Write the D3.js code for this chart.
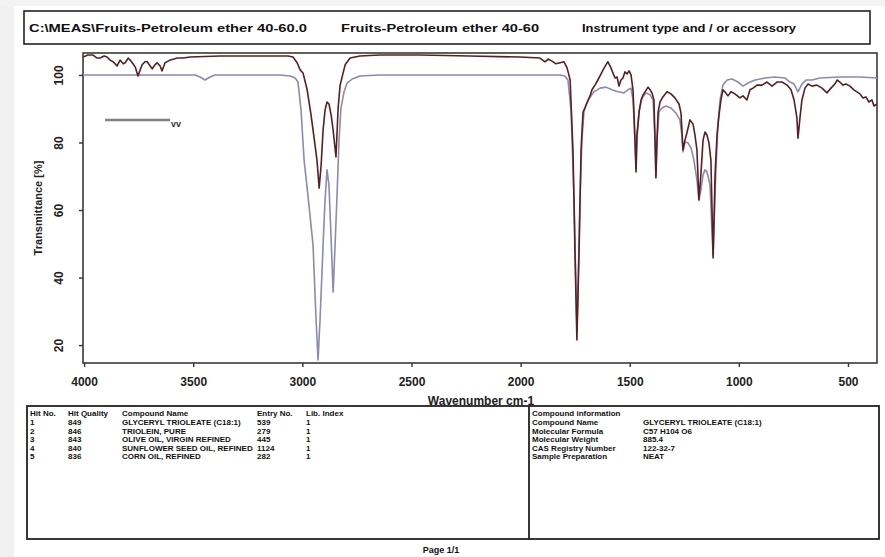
<!DOCTYPE html>
<html><head><meta charset="utf-8">
<script src="https://cdn.jsdelivr.net/npm/d3@7"></script>
<style>body{margin:0;background:#fff}svg{display:block;font-family:"Liberation Sans",Arial,sans-serif}</style>
</head><body><svg id="c" width="885" height="557"></svg>
<script>
// ---------- data ----------
const headerTexts=["C:\\MEAS\\Fruits-Petroleum ether 40-60.0","Fruits-Petroleum ether 40-60","Instrument type and / or accessory"];
const yTicks=[100,80,60,40,20];
const xTicks=[4000,3500,3000,2500,2000,1500,1000,500];
const xDomain=[4005,367];
const yDomain=[14.7,106.5];
// sample spectrum [wavenumber, %T]
const sample=[[4005,105.3],[3982,105.9],[3959,105.9],[3940,105.0],[3927,105.0],[3908,105.6],[3895,105.3],[3881,104.4],[3867,103.9],[3849,102.7],[3835,104.4],[3821,103.3],[3812,103.6],[3798,105.0],[3789,104.4],[3776,103.3],[3766,102.4],[3753,99.7],[3743,101.5],[3734,103.0],[3721,103.9],[3711,103.9],[3698,102.7],[3688,101.8],[3675,103.0],[3666,103.6],[3652,102.7],[3643,101.2],[3634,102.7],[3629,103.6],[3615,104.1],[3606,104.4],[3588,104.7],[3574,105.0],[3546,105.0],[3514,105.3],[3377,105.6],[3194,105.6],[3065,105.6],[3043,105.3],[3024,103.6],[3010,101.5],[2997,100.6],[2978,95.6],[2960,88.1],[2942,79.3],[2933,74.8],[2923,66.5],[2914,73.3],[2905,83.7],[2896,89.6],[2887,92.0],[2878,91.4],[2868,88.1],[2859,83.7],[2846,75.7],[2836,90.2],[2827,97.0],[2804,103.0],[2781,105.0],[2736,105.6],[2644,105.9],[2461,105.9],[2232,105.6],[2003,105.3],[1911,105.0],[1888,103.9],[1874,104.7],[1856,104.1],[1838,103.3],[1819,103.6],[1801,103.9],[1787,102.1],[1773,98.5],[1760,77.8],[1751,48.1],[1742,21.5],[1732,48.1],[1723,77.8],[1714,89.0],[1705,90.2],[1696,91.7],[1682,93.8],[1673,95.6],[1659,97.0],[1646,98.5],[1636,99.7],[1622,101.5],[1609,103.0],[1600,103.9],[1586,102.1],[1577,100.6],[1567,99.1],[1558,99.4],[1549,96.7],[1540,98.5],[1531,99.1],[1522,100.9],[1512,100.3],[1503,101.2],[1494,100.0],[1485,95.6],[1480,88.1],[1476,80.7],[1471,71.3],[1467,82.2],[1457,89.0],[1448,92.6],[1439,94.1],[1430,95.0],[1416,96.4],[1407,95.6],[1398,94.7],[1389,92.6],[1384,80.7],[1380,69.5],[1375,80.7],[1370,89.0],[1361,92.0],[1348,93.5],[1329,95.0],[1311,94.4],[1293,93.2],[1274,91.4],[1265,88.7],[1256,77.8],[1247,80.7],[1238,82.8],[1224,86.7],[1210,85.5],[1201,82.2],[1192,77.8],[1183,63.0],[1174,70.4],[1164,80.7],[1155,83.1],[1146,82.2],[1137,79.9],[1128,74.8],[1118,45.8],[1109,70.4],[1100,82.2],[1091,88.1],[1082,92.6],[1073,95.6],[1064,95.0],[1050,93.8],[1036,95.0],[1018,94.4],[995,93.2],[981,93.8],[963,92.6],[949,95.6],[935,96.1],[917,97.0],[894,97.0],[871,97.9],[848,96.7],[825,97.9],[802,97.9],[779,97.0],[761,95.6],[747,92.6],[734,87.3],[729,81.3],[720,87.3],[711,92.6],[697,96.1],[683,97.3],[665,96.7],[642,97.0],[619,96.1],[596,94.7],[578,96.1],[560,97.3],[550,98.5],[537,97.9],[523,97.0],[509,97.3],[491,96.7],[473,95.6],[459,95.0],[445,94.4],[431,93.2],[418,93.5],[404,92.0],[390,92.6],[381,90.8],[367,91.4]];
// library reference spectrum [wavenumber, %T]
const reference=[[4005,100],[3698,100],[3491,100],[3469,99.4],[3446,98.5],[3423,99.4],[3400,100],[3102,100],[3056,99.7],[3033,99.1],[3020,97.9],[3006,89.6],[2992,74.8],[2978,66.5],[2965,58.5],[2951,49.6],[2937,27.4],[2928,15.6],[2919,27.4],[2905,49.6],[2896,63.0],[2887,71.9],[2878,67.4],[2868,51.1],[2859,35.7],[2850,49.6],[2841,64.4],[2832,80.7],[2823,90.2],[2809,95.0],[2795,97.6],[2772,98.8],[2736,99.7],[2644,100],[1819,100],[1797,99.7],[1783,98.5],[1769,89.6],[1755,63.0],[1746,36.3],[1742,24.4],[1737,36.3],[1728,63.0],[1719,80.7],[1709,89.6],[1691,92.6],[1664,95.0],[1636,96.1],[1609,96.4],[1581,95.6],[1554,95.0],[1526,94.7],[1508,95.6],[1494,96.1],[1485,92.6],[1476,80.7],[1471,72.4],[1467,80.7],[1457,89.6],[1443,93.2],[1425,94.7],[1407,94.1],[1393,92.6],[1384,80.7],[1380,70.4],[1375,80.7],[1366,89.0],[1352,90.2],[1334,90.8],[1311,90.2],[1288,88.7],[1270,86.7],[1261,82.2],[1256,77.2],[1247,80.1],[1233,79.9],[1219,78.4],[1206,74.8],[1192,68.9],[1183,63.0],[1174,65.9],[1164,70.4],[1155,71.9],[1146,71.3],[1132,67.4],[1123,54.1],[1118,46.7],[1114,54.1],[1105,71.9],[1096,85.2],[1086,92.6],[1073,97.0],[1054,98.5],[1031,98.8],[1004,97.9],[981,96.7],[958,97.6],[926,98.5],[880,99.1],[835,99.4],[789,99.1],[766,97.9],[747,97.3],[729,95.0],[711,97.3],[692,98.5],[665,98.5],[628,99.1],[537,99.4],[445,99.4],[367,99.1]];
const tableHead=["Hit No.","Hit Quality","Compound Name","Entry No.","Lib. Index"];
const hitNo=["1","2","3","4","5"];
const hitQuality=["849","846","843","840","836"];
const compoundNames=["GLYCERYL TRIOLEATE (C18:1)","TRIOLEIN, PURE","OLIVE OIL, VIRGIN REFINED","SUNFLOWER SEED OIL, REFINED","CORN OIL, REFINED"];
const entryNo=["539","279","445","1124","282"];
const libIndex=["1","1","1","1","1"];
const infoLabels=["Compound Name","Molecular Formula","Molecular Weight","CAS Registry Number","Sample Preparation"];
const infoValues=["GLYCERYL TRIOLEATE (C18:1)","C57 H104 O6","885.4","122-32-7","NEAT"];

// ---------- drawing ----------
const svg=d3.select("#c");
svg.append("rect").attr("width",885).attr("height",557).attr("fill","#fff");
svg.append("rect").attr("x",0).attr("y",0).attr("width",14).attr("height",557).attr("fill","#f1f1f1");
svg.append("rect").attr("x",0).attr("y",0).attr("width",885).attr("height",6).attr("fill","#f3f3f3");

// header
svg.append("rect").attr("x",24).attr("y",11).attr("width",846).attr("height",33)
  .attr("fill","none").attr("stroke","#222").attr("stroke-width",1.6);
const hx=[29,341,582], hw=[278,198,214];
headerTexts.forEach((t,i)=>{
  svg.append("text").attr("x",hx[i]).attr("y",32).attr("font-size",11.5).attr("font-weight","bold")
   .attr("fill","#111").attr("textLength",hw[i]).attr("lengthAdjust","spacingAndGlyphs").text(t);
});

const L=83,T=53,R=877,B=363;
const x=d3.scaleLinear().domain(xDomain).range([L,R]);
const y=d3.scaleLinear().domain(yDomain).range([B,T]);

svg.append("defs").append("clipPath").attr("id","pc").append("rect")
  .attr("x",L).attr("y",T-2).attr("width",R-L).attr("height",B-T+2);

// frame
svg.append("rect").attr("x",L).attr("y",T).attr("width",R-L).attr("height",B-T)
  .attr("fill","none").attr("stroke","#3a3a3a").attr("stroke-width",1.6);

// axes
const ya=svg.append("g").attr("transform",`translate(${L},0)`)
  .call(d3.axisLeft(y).tickValues(yTicks).tickSize(4).tickFormat(d3.format("d")));
ya.select(".domain").remove();
ya.selectAll(".tick line").attr("stroke","#333").attr("stroke-width",1.4);
ya.selectAll(".tick text").attr("transform","rotate(-90)").attr("x",0).attr("y",-20.5).attr("dy",0)
  .attr("text-anchor","middle").attr("font-size",12).attr("font-weight","bold").attr("fill","#222")
  .attr("font-family","Liberation Sans, Arial, sans-serif");

const xa=svg.append("g").attr("transform",`translate(0,${B})`)
  .call(d3.axisBottom(x).tickValues(xTicks).tickSize(4).tickFormat(d3.format("d")));
xa.select(".domain").remove();
xa.selectAll(".tick line").attr("stroke","#333").attr("stroke-width",1.4);
xa.selectAll(".tick text").attr("y",14).attr("font-size",12).attr("font-weight","bold").attr("fill","#222")
  .attr("font-family","Liberation Sans, Arial, sans-serif");

svg.append("text").attr("transform","translate(42,208) rotate(-90)").attr("text-anchor","middle")
  .attr("font-size",11).attr("font-weight","bold").attr("fill","#222").text("Transmittance [%]");
svg.append("text").attr("x",481).attr("y",405).attr("text-anchor","middle")
  .attr("font-size",12).attr("font-weight","bold").attr("fill","#222").text("Wavenumber cm-1");

// spectra
const line=d3.line().x(d=>x(d[0])).y(d=>y(d[1]));
const pg=svg.append("g").attr("clip-path","url(#pc)");
pg.append("path").datum(reference).attr("d",line).attr("fill","none")
  .attr("stroke","#8a8ab2").attr("stroke-width",1.6).attr("stroke-linejoin","round");
pg.append("path").datum(sample).attr("d",line).attr("fill","none")
  .attr("stroke","#5a2020").attr("stroke-width",1.6).attr("stroke-linejoin","round");

// small legend sample
svg.append("line").attr("x1",105).attr("x2",170).attr("y1",120).attr("y2",120)
  .attr("stroke","#808080").attr("stroke-width",2.4);
svg.append("text").attr("x",171).attr("y",127).attr("font-size",9).attr("font-weight","bold").attr("fill","#333").text("vv");

// bottom box
svg.append("rect").attr("x",27).attr("y",406).attr("width",852).attr("height",133)
  .attr("fill","none").attr("stroke","#222").attr("stroke-width",1.8);
svg.append("line").attr("x1",529).attr("x2",529).attr("y1",406).attr("y2",539).attr("stroke","#222").attr("stroke-width",1.8);

const colX=[30,68,122,257,306];
const fs=8;
tableHead.forEach((t,i)=>svg.append("text").attr("x",colX[i]).attr("y",416).attr("font-size",fs)
  .attr("font-weight","bold").attr("fill","#111").text(t));
const cols=[hitNo,hitQuality,compoundNames,entryNo,libIndex];
const rowY=[425,433.5,442,450.5,459];
cols.forEach((col,ci)=>col.forEach((t,ri)=>svg.append("text").attr("x",colX[ci]).attr("y",rowY[ri])
  .attr("font-size",fs).attr("font-weight","bold").attr("fill","#111").text(t)));

svg.append("text").attr("x",532).attr("y",416).attr("font-size",fs).attr("font-weight","bold").attr("fill","#111").text("Compound information");
infoLabels.forEach((t,i)=>{
  svg.append("text").attr("x",532).attr("y",rowY[i]).attr("font-size",fs).attr("font-weight","bold").attr("fill","#111").text(t);
  svg.append("text").attr("x",643).attr("y",rowY[i]).attr("font-size",fs).attr("font-weight","bold").attr("fill","#111").text(infoValues[i]);
});

svg.append("text").attr("x",441).attr("y",553).attr("text-anchor","middle").attr("font-size",9)
  .attr("font-weight","bold").attr("fill","#111").text("Page 1/1");
</script></body></html>
